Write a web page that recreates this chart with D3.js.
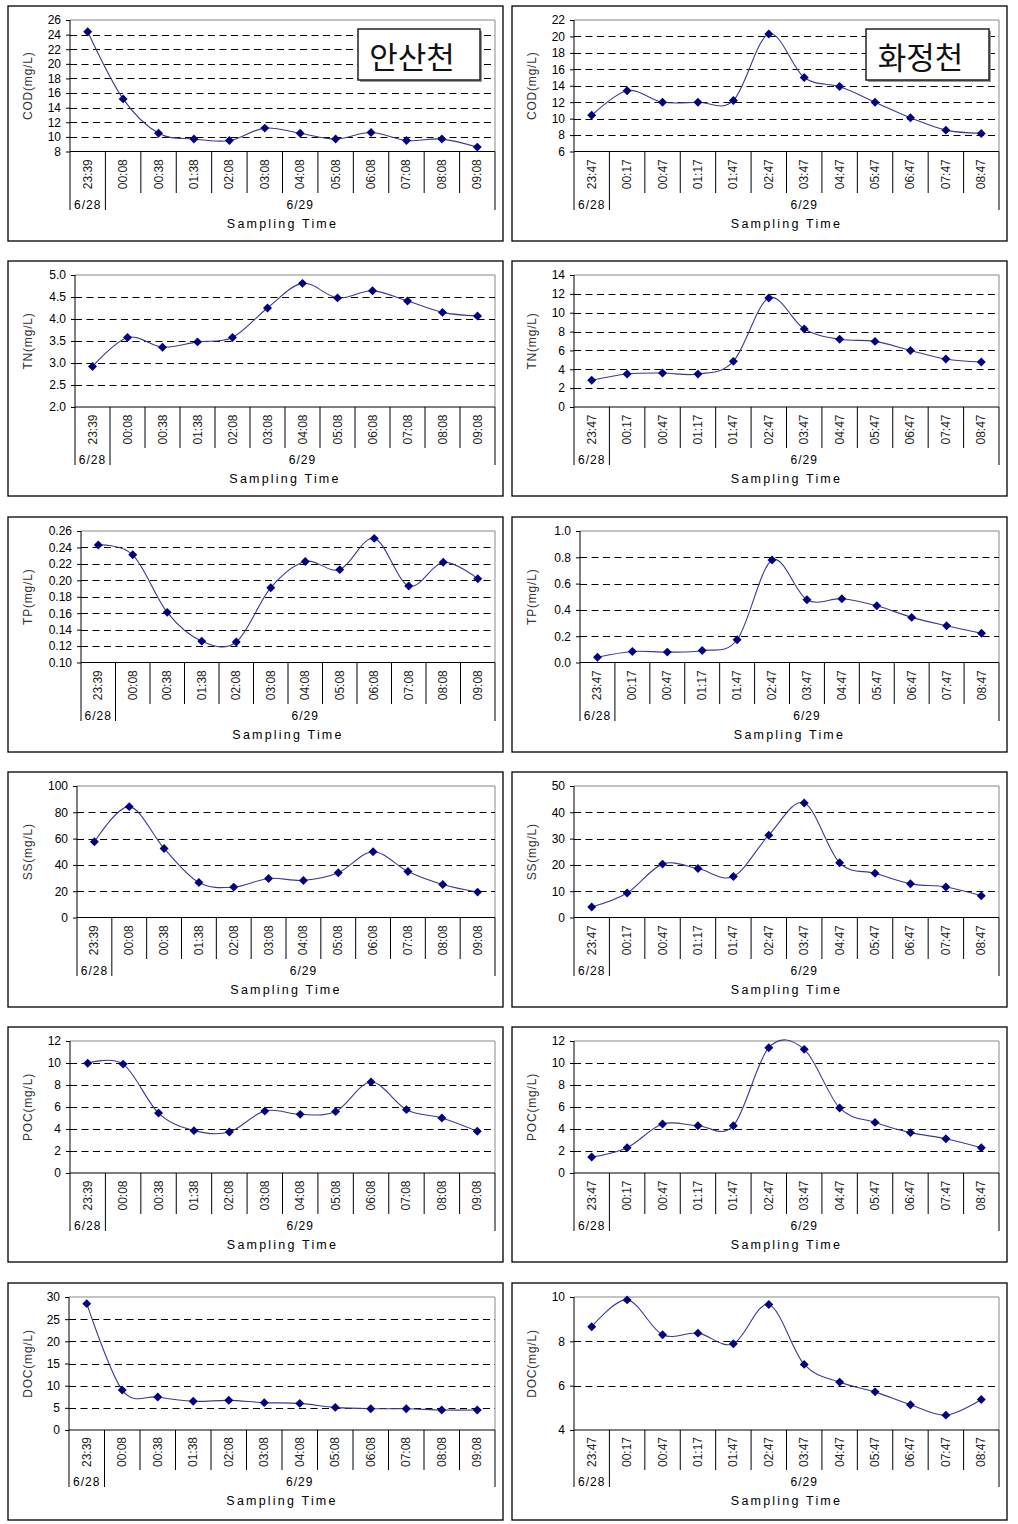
<!DOCTYPE html>
<html><head><meta charset="utf-8">
<script src="https://cdn.jsdelivr.net/npm/d3@7"></script>
<style>body{margin:0;background:#fff}svg{display:block}</style>
</head><body>
<svg id="c" width="1018" height="1524"></svg>
<script>
// ---------- data ----------
const timesA = ["23:39","00:08","00:38","01:38","02:08","03:08","04:08","05:08","06:08","07:08","08:08","09:08"];
const timesB = ["23:47","00:17","00:47","01:17","01:47","02:47","03:47","04:47","05:47","06:47","07:47","08:47"];
const dateLabels = ["6/28","6/29"];
const stationNames = ["안산천","화정천"];
const xTitle = "Sampling Time";

const codA = [24.4,15.2,10.5,9.7,9.5,11.2,10.5,9.7,10.6,9.5,9.7,8.6];
const codB = [10.4,13.4,12.0,12.0,12.2,20.3,15.0,13.9,12.0,10.1,8.6,8.2];
const tnA  = [2.92,3.58,3.36,3.48,3.58,4.25,4.81,4.48,4.64,4.41,4.15,4.07];
const tnB  = [2.83,3.5,3.6,3.5,4.84,11.56,8.27,7.18,6.96,6.0,5.09,4.77];
const tpA  = [0.243,0.231,0.161,0.126,0.125,0.191,0.223,0.213,0.251,0.193,0.222,0.202];
const tpB  = [0.04,0.084,0.079,0.091,0.173,0.779,0.477,0.485,0.431,0.343,0.279,0.223];
const ssA  = [57.6,84.3,52.5,26.6,23.1,29.7,28.2,34.0,50.0,35.0,25.1,19.3];
const ssB  = [4.0,9.3,20.3,18.6,15.6,31.3,43.5,20.8,16.8,12.8,11.6,8.3];
const pocA = [9.97,9.9,5.45,3.85,3.73,5.64,5.33,5.58,8.27,5.76,5.0,3.79];
const pocB = [1.45,2.3,4.45,4.3,4.3,11.39,11.24,5.91,4.6,3.67,3.12,2.3];
const docA = [28.5,9.0,7.44,6.47,6.69,6.17,6.0,5.1,4.8,4.8,4.5,4.5];
const docB = [8.66,9.87,8.30,8.37,7.89,9.66,6.96,6.16,5.72,5.14,4.67,5.38];

const codATicks = [8,10,12,14,16,18,20,22,24,26];
const codBTicks = [6,8,10,12,14,16,18,20,22];
const tnATicks  = [2.0,2.5,3.0,3.5,4.0,4.5,5.0];
const tnBTicks  = [0,2,4,6,8,10,12,14];
const tpATicks  = [0.10,0.12,0.14,0.16,0.18,0.20,0.22,0.24,0.26];
const tpBTicks  = [0.0,0.2,0.4,0.6,0.8,1.0];
const ssATicks  = [0,20,40,60,80,100];
const ssBTicks  = [0,10,20,30,40,50];
const pocTicks  = [0,2,4,6,8,10,12];
const docATicks = [0,5,10,15,20,25,30];
const docBTicks = [4,6,8,10];

const yTitles = ["COD(mg/L)","TN(mg/L)","TP(mg/L)","SS(mg/L)","POC(mg/L)","DOC(mg/L)"];

// ---------- layout (positions only) ----------
const colX = [8, 512];
const rowY = [6, 261, 517, 772, 1027, 1283];
const panelW = 495, panelH = 235;
const plotLefts = [[62,62],[67,62],[73,68],[69,62],[62,62],[61,62]];
const plotRight = 487, plotTop = 14;
const plotBottoms = [145.5,146,145.5,145.5,146,147];

const panels = [
  {vals:[codA,codB], ticks:[codATicks,codBTicks], fmt:[d3.format("d"),d3.format("d")]},
  {vals:[tnA,tnB],   ticks:[tnATicks,tnBTicks],   fmt:[d3.format(".1f"),d3.format("d")]},
  {vals:[tpA,tpB],   ticks:[tpATicks,tpBTicks],   fmt:[d3.format(".2f"),d3.format(".1f")]},
  {vals:[ssA,ssB],   ticks:[ssATicks,ssBTicks],   fmt:[d3.format("d"),d3.format("d")]},
  {vals:[pocA,pocB], ticks:[pocTicks,pocTicks],   fmt:[d3.format("d"),d3.format("d")]},
  {vals:[docA,docB], ticks:[docATicks,docBTicks], fmt:[d3.format("d"),d3.format("d")]}
];

const svg = d3.select("#c");
const numFont = "'Liberation Sans', Arial, sans-serif";

panels.forEach((p, r) => {
  [0,1].forEach(c => {
    const times = c === 0 ? timesA : timesB;
    const values = p.vals[c];
    const ticks = p.ticks[c];
    const fmt = p.fmt[c];
    const L = plotLefts[r][c], B = plotBottoms[r];
    const g = svg.append("g").attr("transform", `translate(${colX[c]},${rowY[r]})`);
    const h = r === 5 ? panelH + 2 : panelH;

    // panel frame
    g.append("rect").attr("x",0).attr("y",0).attr("width",panelW).attr("height",h)
      .attr("fill","#fff").attr("stroke","#000").attr("stroke-width",1.3);

    const x = d3.scaleBand().domain(times).range([L, plotRight]).padding(0);
    const y = d3.scaleLinear().domain(d3.extent(ticks)).range([B, plotTop]);

    // plot border (gray top/right)
    g.append("path")
      .attr("d", `M${L},${plotTop}H${plotRight}V${B}`)
      .attr("fill","none").attr("stroke","#888").attr("stroke-width",1);

    // dashed gridlines
    g.append("g").selectAll("line").data(ticks.slice(1, -1)).join("line")
      .attr("x1", L).attr("x2", plotRight)
      .attr("y1", d => Math.round(y(d)) + 0.5).attr("y2", d => Math.round(y(d)) + 0.5)
      .attr("stroke","#000").attr("stroke-width",1).attr("stroke-dasharray","7,4.5");

    // y axis
    const yAxis = d3.axisLeft(y).tickValues(ticks).tickFormat(fmt).tickSize(4).tickPadding(5);
    const ya = g.append("g").attr("transform",`translate(${L},0)`).call(yAxis);
    ya.select(".domain").remove();
    ya.selectAll(".tick line").attr("stroke","#000");
    ya.selectAll("text").attr("font-family", numFont).attr("font-size", 12).attr("fill","#000");

    // y title
    g.append("text")
      .attr("transform", `translate(20,${(plotTop + B) / 2}) rotate(-90)`)
      .attr("text-anchor","middle").attr("dominant-baseline","central")
      .attr("font-family", numFont).attr("font-size", 12).attr("letter-spacing", 0.8)
      .attr("fill","#333").text(yTitles[r]);

    // axes lines
    const dateBottom = 204, catBottom = 187;
    g.append("line").attr("x1",L).attr("x2",L).attr("y1",plotTop).attr("y2",dateBottom)
      .attr("stroke","#000").attr("stroke-width",1);
    g.append("line").attr("x1",L).attr("x2",plotRight).attr("y1",B).attr("y2",B)
      .attr("stroke","#000").attr("stroke-width",1);

    // category separators
    const bounds = times.map(t => x(t)).concat([plotRight]);
    g.append("g").selectAll("line").data(bounds.slice(1)).join("line")
      .attr("x1", d => d).attr("x2", d => d)
      .attr("y1", B)
      .attr("y2", (d, i) => (i === 0 || i === bounds.length - 2) ? dateBottom : catBottom)
      .attr("stroke","#000").attr("stroke-width",1);

    // category labels
    g.append("g").selectAll("text").data(times).join("text")
      .attr("transform", d => `translate(${x(d) + x.bandwidth() / 2},${(B + catBottom) / 2 + 2}) rotate(-90)`)
      .attr("text-anchor","middle").attr("dominant-baseline","central")
      .attr("font-family", numFont).attr("font-size", 12).attr("fill","#222")
      .text(d => d);

    // date labels
    const d1c = x(times[0]) + x.bandwidth() / 2;
    const d2c = (x(times[1]) + plotRight) / 2;
    g.append("g").selectAll("text").data(dateLabels).join("text")
      .attr("x", (d, i) => i === 0 ? d1c : d2c)
      .attr("y", 199)
      .attr("text-anchor","middle").attr("dominant-baseline","central")
      .attr("font-family", numFont).attr("font-size", 12).attr("letter-spacing", 1).attr("fill","#000")
      .text(d => d);

    // x title
    g.append("text").attr("x", (L + plotRight) / 2).attr("y", 218)
      .attr("text-anchor","middle").attr("dominant-baseline","central")
      .attr("font-family", numFont).attr("font-size", 12.5).attr("letter-spacing", 2.2).attr("fill","#000")
      .text(xTitle);

    // line
    const line = d3.line()
      .x((d, i) => x(times[i]) + x.bandwidth() / 2)
      .y(d => y(d))
      .curve(d3.curveCardinal.tension(0));
    g.append("path").datum(values).attr("d", line)
      .attr("fill","none").attr("stroke","#3a3a96").attr("stroke-width",1.1);

    // markers
    const sym = d3.symbol(d3.symbolSquare, 40);
    g.append("g").selectAll("path").data(values).join("path")
      .attr("d", sym)
      .attr("transform", (d, i) => `translate(${x(times[i]) + x.bandwidth() / 2},${y(d)}) rotate(45)`)
      .attr("fill","#000080");

    // station label box
    if (r === 0) {
      const bx = c === 0 ? 350 : 354, bw = c === 0 ? 122 : 123;
      g.append("rect").attr("x", bx + 2).attr("y", 25).attr("width", bw).attr("height", 51).attr("fill","#999");
      g.append("rect").attr("x", bx).attr("y", 23).attr("width", bw).attr("height", 51)
        .attr("fill","#fff").attr("stroke","#222").attr("stroke-width",1.5);
      g.append("text").attr("x", bx + bw / 2 - 7).attr("y", 49)
        .attr("text-anchor","middle").attr("dominant-baseline","central")
        .attr("font-family","'Noto Sans CJK KR', sans-serif").attr("font-size", 31).attr("fill","#111")
        .text(stationNames[c]);
    }
  });
});
</script>
</body></html>
